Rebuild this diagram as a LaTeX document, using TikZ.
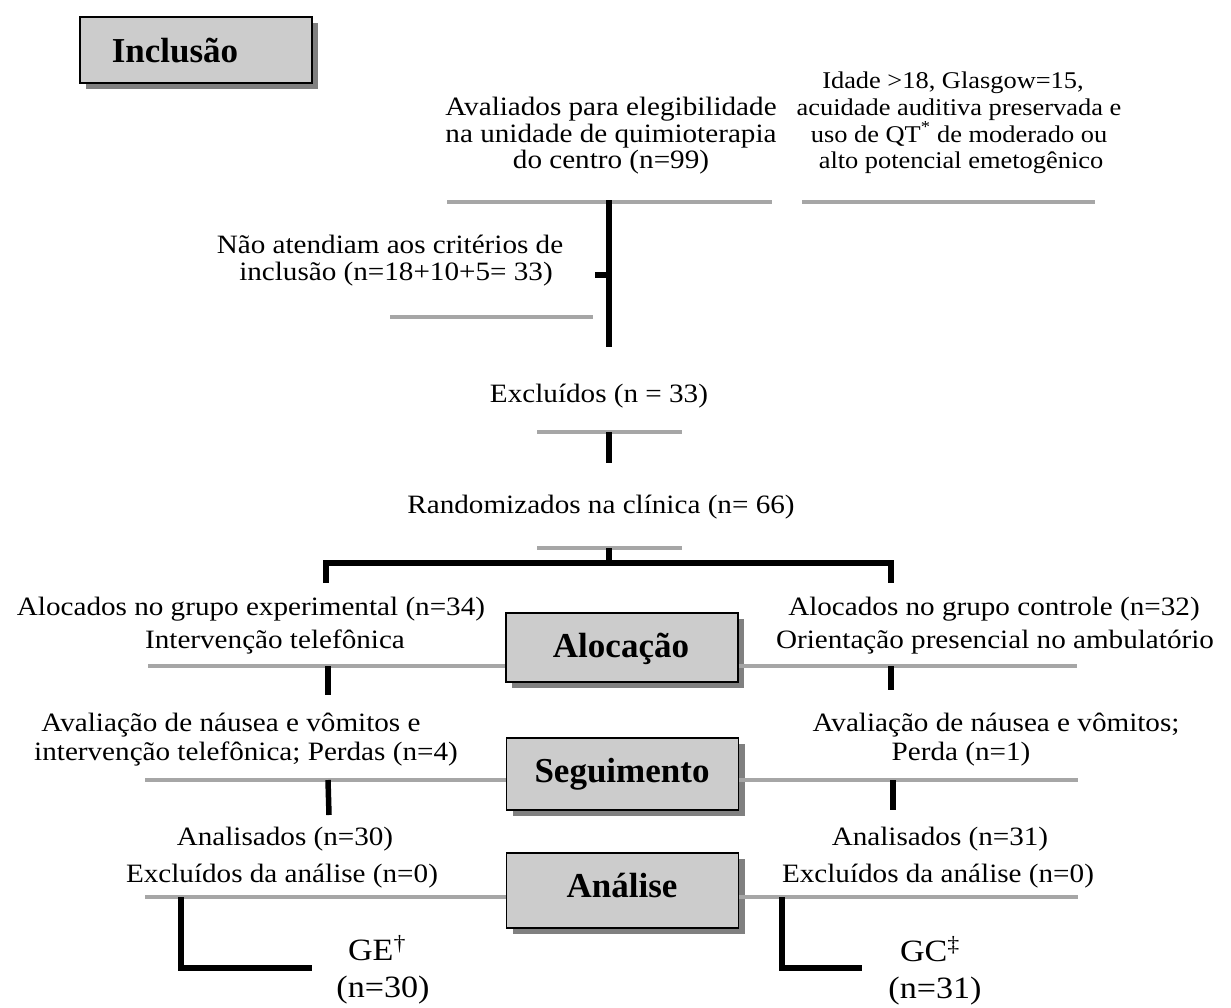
\documentclass[tikz,border=0pt]{standalone}
\usepackage{fontspec}
\setmainfont{Liberation Serif}[FakeStretch=1.1]
\newfontfamily\labelfont{Liberation Serif}
\usetikzlibrary{shadows,calc}
\definecolor{boxfill}{HTML}{CCCCCC}
\definecolor{shadowc}{HTML}{808080}
\definecolor{linegray}{HTML}{A6A6A6}
\begin{document}
\begin{tikzpicture}[x=1pt,y=-1pt,
 txt/.style={font=\fontsize{26.5}{26.5}\selectfont, anchor=base, inner sep=0pt},
 smalltxt/.style={font=\fontsize{24}{24}\selectfont, anchor=base, inner sep=0pt},
 bigtxt/.style={font=\fontsize{31}{31}\selectfont, anchor=base, inner sep=0pt},
 phaselabel/.style={font=\labelfont\bfseries\fontsize{35}{35}\selectfont, anchor=base, inner sep=0pt},
 phasebox/.style={draw=black, line width=1.6pt, fill=boxfill, minimum width=232pt, inner sep=0pt,
   drop shadow={shadow xshift=6pt, shadow yshift=-6pt, fill=shadowc, opacity=1}},
 gline/.style={draw=linegray, line width=4pt},
 bline/.style={draw=black, line width=5.5pt, line join=miter}]
\useasboundingbox[fill=white] (0,0) rectangle (1231,1007);

% phase boxes
\node[phasebox, minimum height=66pt] (inclbox) at (196,50) {};
\node[phaselabel] (incl) at (175,62) {Inclusão};
\node[phasebox, minimum height=69pt] (alocbox) at (622,647.5) {};
\node[phaselabel] (aloc) at (621,657) {Alocação};
\node[phasebox, minimum height=72pt] (seguibox) at (622.5,774) {};
\node[phaselabel] (segui) at (622,782) {Seguimento};
\node[phasebox, minimum height=75pt] (analbox) at (622.5,890.5) {};
\node[phaselabel] (anal) at (622,897) {Análise};

% texts
\node[smalltxt] (t1a) at (953,88) {Idade >18, Glasgow=15,};
\node[smalltxt] (t1b) at (959,115) {acuidade auditiva preservada e};
\node[smalltxt] (t1c) at (959,142) {uso de QT\textsuperscript{*} de moderado ou};
\node[smalltxt] (t1d) at (961,168) {alto potencial emetogênico};
\node[txt] (t2a) at (611,115) {Avaliados para elegibilidade};
\node[txt] (t2b) at (611,142) {na unidade de quimioterapia};
\node[txt] (t2c) at (611,168) {do centro (n=99)};
\node[txt] (t3a) at (390,253) {Não atendiam aos critérios de};
\node[txt] (t3b) at (396,280) {inclusão (n=18+10+5= 33)};
\node[txt] (t4) at (599,402) {Excluídos (n = 33)};
\node[txt] (t5) at (601,513) {Randomizados na clínica (n= 66)};
\node[txt] (t6a) at (251,615) {Alocados no grupo experimental (n=34)};
\node[txt] (t6b) at (275,648) {Intervenção telefônica};
\node[txt] (t7a) at (994,615) {Alocados no grupo controle (n=32)};
\node[txt] (t7b) at (995,648) {Orientação presencial no ambulatório};
\node[txt] (t8a) at (231,731) {Avaliação de náusea e vômitos e};
\node[txt] (t8b) at (246,760) {intervenção telefônica; Perdas (n=4)};
\node[txt] (t9a) at (996,731) {Avaliação de náusea e vômitos;};
\node[txt] (t9b) at (961,760) {Perda (n=1)};
\node[txt] (t10a) at (285,845) {Analisados (n=30)};
\node[txt] (t10b) at (282,882) {Excluídos da análise (n=0)};
\node[txt] (t11a) at (940,845) {Analisados (n=31)};
\node[txt] (t11b) at (938,882) {Excluídos da análise (n=0)};
\node[bigtxt] (ge) at (377,960) {GE\textsuperscript{†}};
\node[bigtxt] (gen) at (383,997) {(n=30)};
\node[bigtxt] (gc) at (930,961) {GC\textsuperscript{‡}};
\node[bigtxt] (gcn) at (935,998) {(n=31)};

% coordinates for gray rules
\coordinate (g1l) at (447,202); \coordinate (g1r) at (772,202);
\coordinate (g2l) at (802,202); \coordinate (g2r) at (1095,202);
\coordinate (g3l) at (390,317); \coordinate (g3r) at (593,317);
\coordinate (g4l) at (537,432); \coordinate (g4r) at (682,432);
\coordinate (g5l) at (537,548); \coordinate (g5r) at (682,548);
\coordinate (g6l) at (148,666); \coordinate (g6r) at (1077,666);
\coordinate (g7l) at (145,780); \coordinate (g7r) at (1078,780);
\coordinate (g8l) at (145,897); \coordinate (g8r) at (1078,897);

\draw[gline] (g1l) -- (g1r);
\draw[gline] (g2l) -- (g2r);
\draw[gline] (g3l) -- (g3r);
\draw[gline] (g4l) -- (g4r);
\draw[gline] (g5l) -- (g5r);
\draw[gline] (g6l) -- (alocbox.west |- g6l);
\draw[gline] (alocbox.east |- g6r) -- (g6r);
\draw[gline] (g7l) -- (seguibox.west |- g7l);
\draw[gline] (seguibox.east |- g7r) -- (g7r);
\draw[gline] (g8l) -- (analbox.west |- g8l);
\draw[gline] (analbox.east |- g8r) -- (g8r);

% black connectors
\coordinate (v1t) at (609,200); \coordinate (v1b) at (609,347);
\coordinate (tick) at (595,275);
\draw[bline] (v1t) -- (v1b);
\draw[bline] (tick) -- (tick -| v1t);
\coordinate (v2t) at (609,432); \coordinate (v2b) at (609,463);
\draw[bline] (v2t) -- (v2b);
\coordinate (v3t) at (609,548); \coordinate (split) at (609,563);
\coordinate (armL) at (326,563); \coordinate (armR) at (891,563);
\coordinate (armLd) at (326,583); \coordinate (armRd) at (891,583);
\draw[bline] (v3t) -- (split);
\draw[bline] (armLd) -- (armL) -- (armR) -- (armRd);
\coordinate (aLt) at (328,666); \coordinate (aLb) at (328,695);
\coordinate (aRt) at (891,666); \coordinate (aRb) at (891,690);
\draw[bline] (aLt) -- (aLb);
\draw[bline] (aRt) -- (aRb);
\coordinate (sLt) at (328,780); \coordinate (sLb) at (329,815);
\coordinate (sRt) at (893,780); \coordinate (sRb) at (893,810);
\draw[bline] (sLt) -- (sLb);
\draw[bline] (sRt) -- (sRb);
\coordinate (eLt) at (181,897); \coordinate (eLc) at (181,968); \coordinate (eLe) at (312,968);
\coordinate (eRt) at (782,897); \coordinate (eRc) at (782,968); \coordinate (eRe) at (862,968);
\draw[bline] (eLt) -- (eLc) -- (eLe);
\draw[bline] (eRt) -- (eRc) -- (eRe);
\end{tikzpicture}
\end{document}
